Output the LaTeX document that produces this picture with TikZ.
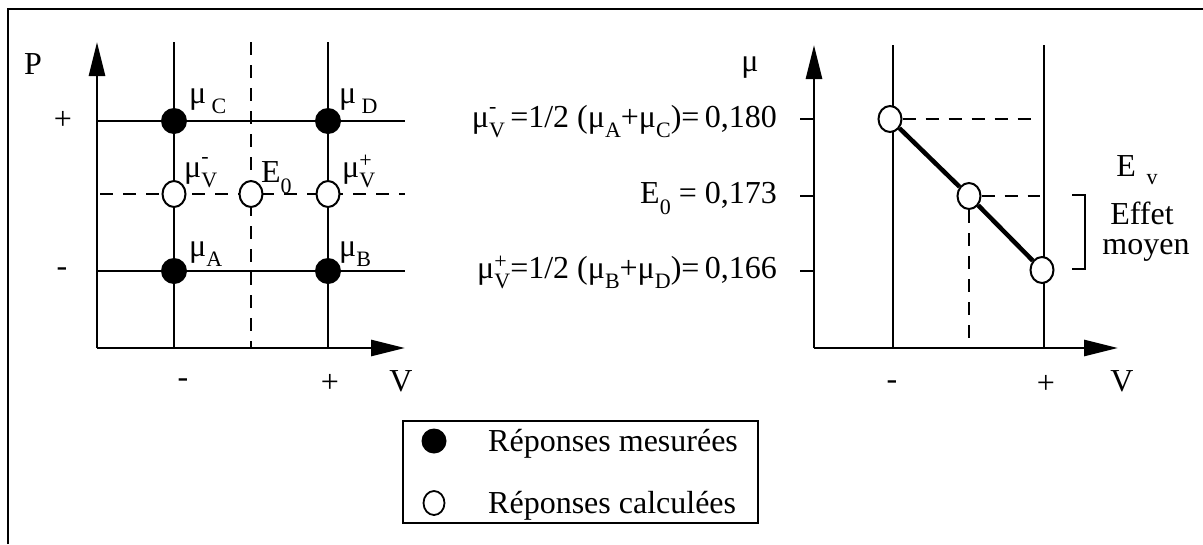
\documentclass[tikz,border=0pt]{standalone}
\usepackage{fontspec}
\setmainfont{Liberation Serif}
\usetikzlibrary{arrows.meta,shapes.geometric}
\newcommand{\sbx}[2][10pt]{\raisebox{-#1}{\fontsize{22}{22}\selectfont #2}}
\newcommand{\spx}[2][9pt]{\raisebox{#1}{\fontsize{22}{22}\selectfont #2}}
\newcommand{\sbsp}[3][12pt]{\rlap{\spx[#1]{#3}}\sbx{#2}}
\begin{document}
\begin{tikzpicture}[x=1pt,y=-1pt,
  font=\fontsize{32}{36}\selectfont,
  every node/.style={inner sep=0pt},
  mainln/.style={line width=2.8pt},
  dsh/.style={line width=2pt, dash pattern=on 13pt off 10pt},
  arr/.style={line width=2.8pt, -{Triangle[length=34pt,width=16pt]}},
  filledpt/.style={circle, fill=black, minimum size=26pt},
  openpt/.style={ellipse, draw, line width=2pt, fill=white, minimum width=23pt, minimum height=26pt},
  lbl/.style={anchor=base west}]
\useasboundingbox (0,0) rectangle (1203,544);
% frame
\draw[line width=2.4pt] (8,544) -- (8,9) -- (1203,9);

% ---------- left panel ----------
\coordinate (O1) at (97,348);
\coordinate (Ptop) at (97,42);
\coordinate (Vend) at (405,348);
\draw[mainln] (97,121) -- (405,121);
\draw[mainln] (97,271) -- (405,271);
\draw[dsh] (100,194) -- (405,194);
\draw[dsh] (251,42) -- (251,348);
\draw[mainln] (174,42) -- (174,348);
\draw[mainln] (328,42) -- (328,348);
\draw[arr] (O1) -- (Ptop);
\draw[arr] (O1) -- (Vend);

\node[filledpt] (C) at (174,121) {};
\node[filledpt] (D) at (328,121) {};
\node[filledpt] (A) at (174,271) {};
\node[filledpt] (B) at (328,271) {};
\node[openpt] (Vm) at (174,194) {};
\node[openpt] (E0) at (251,194) {};
\node[openpt] (Vp) at (328,194) {};

\node[lbl] (lC) at (189,103) {μ\,\sbx{C}};
\node[lbl] (lD) at (339,103) {μ\,\sbx{D}};
\node[lbl] (lVm) at (184,177) {μ\sbsp[14pt]{V}{-}};
\node[lbl] (lE0) at (261,182) {E\sbx[11pt]{0}};
\node[lbl] (lVp) at (342,177) {μ\sbsp[10pt]{V}{+}};
\node[lbl] (lA) at (189,256) {μ\sbx{A}};
\node[lbl] (lB) at (339,256) {μ\sbx{B}};

\node (P) at (33,64) {P};
\node (pp) at (63,120) {+};
\node (pm) at (62,272) {-};
\node (vm) at (183,383) {-};
\node (vp) at (330,383) {+};
\node (V1) at (401,381) {V};

% ---------- right panel ----------
\coordinate (O2) at (814,348);
\coordinate (Mtop) at (814,45);
\coordinate (V2end) at (1118,348);
\draw[mainln] (893,45) -- (893,348);
\draw[mainln] (1044,45) -- (1044,348);
\draw[arr] (O2) -- (Mtop);
\draw[arr] (O2) -- (V2end);
\draw[mainln] (800,119) -- (814,119);
\draw[mainln] (800,196) -- (814,196);
\draw[mainln] (800,271) -- (814,271);

\node[openpt] (r1) at (890,119) {};
\node[openpt] (r2) at (969,196) {};
\node[openpt] (r3) at (1042,270) {};
\draw[dsh] (r1.east) -- (1040,119);
\draw[dsh] (r2.east) -- (1040,196);
\draw[dsh] (r2.south) -- (969,343);
\draw[line width=4.5pt] (r1) -- (r2) -- (r3);
\draw[line width=2pt] (1072,195) -- (1085,195) -- (1085,269) -- (1072,269);

\node (mu) at (750,68) {μ};
\node[anchor=base east] (eq1) at (777,127) {μ\sbsp[14pt]{V}{-}\,=1/2 (μ\sbx{A}+μ\sbx{C})=\,0,180};
\node[anchor=base east] (eq2) at (777,203) {E\sbx[11pt]{0}\ =\ 0,173};
\node[anchor=base east] (eq3) at (777,278) {μ\sbsp[10pt]{V}{+}=1/2 (μ\sbx{B}+μ\sbx{D})=\,0,166};

\node (Ev) at (1137,170) {E\,\,\sbx[8pt]{v}};
\node (ef) at (1142,213) {Effet};
\node (my) at (1146,250) {moyen};

\node (rvm) at (892,385) {-};
\node (rvp) at (1046,384) {+};
\node (V2) at (1122,381) {V};

% ---------- legend ----------
\draw[line width=1.8pt] (403,421) rectangle (758,523);
\node[filledpt, minimum size=25pt] (lg1) at (434,441) {};
\node[openpt, minimum width=21pt, minimum height=24pt, line width=1.8pt] (lg2) at (434,503) {};
\node[lbl] (t1) at (488,451) {Réponses mesurées};
\node[lbl] (t2) at (488,513) {Réponses calculées};
\end{tikzpicture}
\end{document}
